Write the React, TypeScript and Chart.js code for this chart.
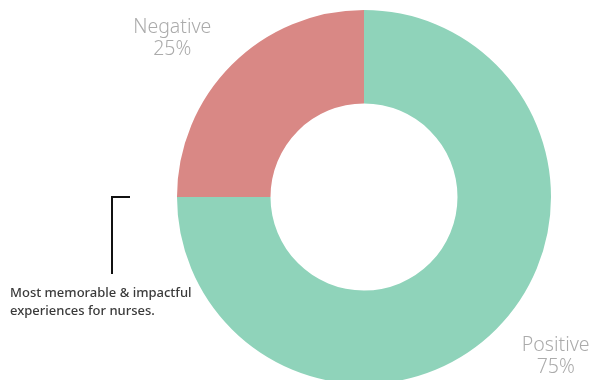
import React, { useEffect, useRef } from "react";
import { Chart, registerables } from "chart.js";

Chart.register(...registerables);

const categories = ["Positive", "Negative"];
const values = [75, 25];
const colors = ["#8fd3ba", "#d98885"];
const noteLines = ["Most memorable & impactful", "experiences for nurses."];

const labelPlugin = {
  id: "sliceLabels",
  afterDatasetsDraw(chart: any) {
    const ctx = chart.ctx;
    const meta = chart.getDatasetMeta(0);
    const total = values.reduce((a, b) => a + b, 0);
    ctx.save();
    ctx.fillStyle = "#ababab";
    ctx.font = "300 19.5px 'Noto Sans', sans-serif";
    ctx.textAlign = "center";
    ctx.textBaseline = "alphabetic";
    meta.data.forEach((arc: any, i: number) => {
      const p = arc.getProps(["x", "y", "startAngle", "endAngle", "outerRadius"], true);
      const mid = (p.startAngle + p.endAngle) / 2;
      const x = p.x + Math.cos(mid) * p.outerRadius * 1.45;
      const y = p.y + Math.sin(mid) * p.outerRadius * 1.205;
      const pct = Math.round((values[i] / total) * 100) + "%";
      ctx.fillText(categories[i], x, y - 5);
      ctx.fillText(pct, x, y + 17);
    });
    ctx.restore();
  },
};

export default function App() {
  const ref = useRef<HTMLCanvasElement | null>(null);
  useEffect(() => {
    if (!ref.current) return;
    const chart = new Chart(ref.current, {
      type: "doughnut",
      data: {
        labels: categories,
        datasets: [
          {
            data: values,
            backgroundColor: colors,
            borderWidth: 0,
          },
        ],
      },
      options: {
        animation: false,
        responsive: false,
        cutout: "50%",
        layout: { padding: { left: 177, right: 41, top: 10, bottom: 16 } },
        plugins: {
          legend: { display: false },
          tooltip: { enabled: false },
        },
      },
      plugins: [labelPlugin],
    });
    return () => chart.destroy();
  }, []);

  return (
    <div
      style={{
        position: "fixed",
        left: 0,
        top: 0,
        width: 592,
        height: 380,
        overflow: "hidden",
        background: "#fff",
      }}
    >
      <canvas
        ref={ref}
        width={592}
        height={400}
        style={{ position: "absolute", left: 0, top: 0, width: 592, height: 400 }}
      />
      <div
        style={{
          position: "absolute",
          left: 111,
          top: 196,
          width: 19,
          height: 78,
          borderLeft: "2px solid #111",
          borderTop: "2px solid #111",
          boxSizing: "border-box",
        }}
      />
      <div
        style={{
          position: "absolute",
          left: 10,
          top: 283,
          fontFamily: "'Noto Sans', sans-serif",
          fontSize: 13,
          fontWeight: 500,
          lineHeight: "18px",
          color: "#3a3a3a",
          whiteSpace: "nowrap",
        }}
      >
        {noteLines.map((l) => (
          <div key={l}>{l}</div>
        ))}
      </div>
    </div>
  );
}
